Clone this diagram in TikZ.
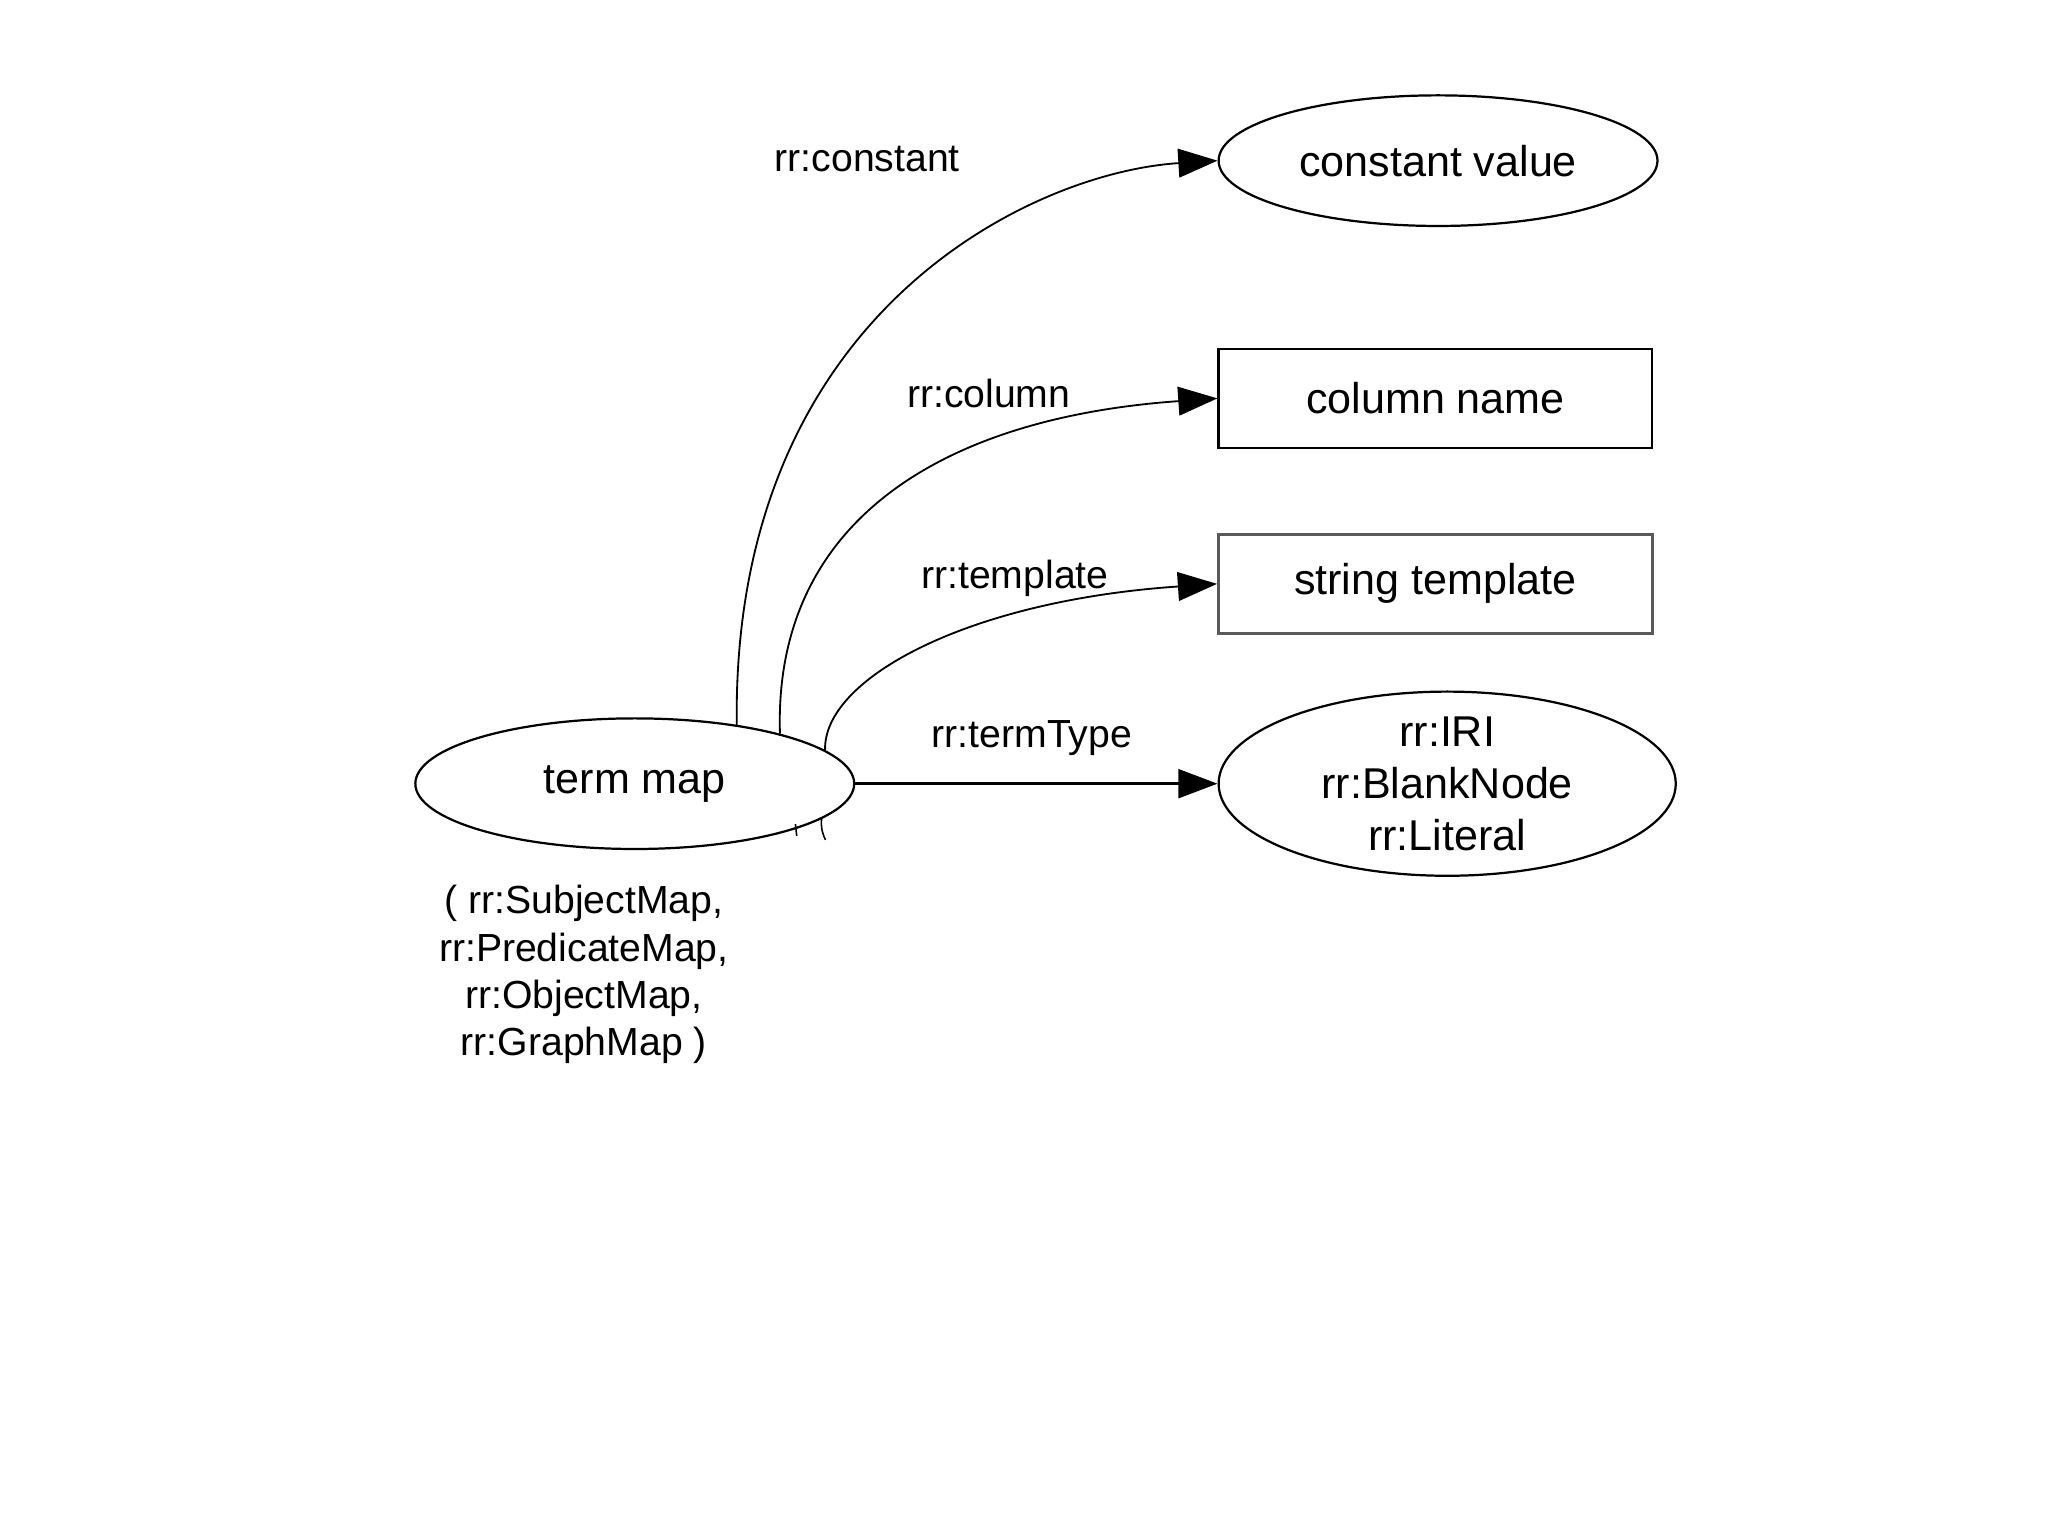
\documentclass[tikz,border=0pt]{standalone}
\usepackage{fontspec}
\setmainfont{Liberation Sans}
\usetikzlibrary{shapes.geometric,arrows.meta}
\begin{document}
\begin{tikzpicture}[x=1pt,y=-1pt,
  ell/.style={ellipse,draw,line width=1.7pt,minimum width=336pt,minimum height=100pt,inner sep=0pt,font=\fontsize{33}{40}\selectfont,align=center},
  box/.style={rectangle,draw,line width=1.8pt,minimum width=332pt,minimum height=76pt,inner sep=0pt,font=\fontsize{33}{40}\selectfont},
  lbl/.style={font=\fontsize{30}{36}\selectfont,align=center,inner sep=0pt},
  conn/.style={line width=1.4pt,-{Triangle[length=30pt,width=22pt]}}]
\useasboundingbox[fill=white] (0,0) rectangle (1568,1176);

\node[ell] (cv) at (1101,123) {constant value};
\node[box] (cn) at (1099,305) {column name};
\node[box,draw=black!65,line width=2.4pt] (st) at (1099,447) {string template};
\node[ell,minimum width=350pt,minimum height=141pt,inner ysep=-8pt] (tt) at (1108,600) {rr:IRI\\rr:BlankNode\\rr:Literal};
\node[ell] (tm) at (486,600) {term map};

\node[lbl] (lc) at (664,122) {rr:constant};
\node[lbl] (lcol) at (757,301) {rr:column};
\node[lbl] (ltp) at (777,443) {rr:template};
\node[lbl] (ltt) at (790,565) {rr:termType};
\node[lbl] (sub) at (447,746) {( rr:SubjectMap,\\rr:PredicateMap,\\rr:ObjectMap,\\rr:GraphMap )};

\draw[conn] (tm.30) .. controls (560,240) and (790,132) .. (cv.west);
\draw[conn] (tm.19) .. controls (592,400) and (720,320) .. (cn.west);
\draw[conn] (tm.10) .. controls (630,520) and (740,460) .. (st.west);
\draw[conn,line width=2.4pt] (tm.east) -- (tt.west);

\coordinate (k1) at (609,631);
\coordinate (k2) at (610,640);
\coordinate (k3) at (629,627);
\coordinate (k4) at (632,643);
\draw[line width=1.2pt] (k1) -- (k2);
\draw[line width=1.2pt] (k3) to[bend right=15] (k4);
\end{tikzpicture}
\end{document}
